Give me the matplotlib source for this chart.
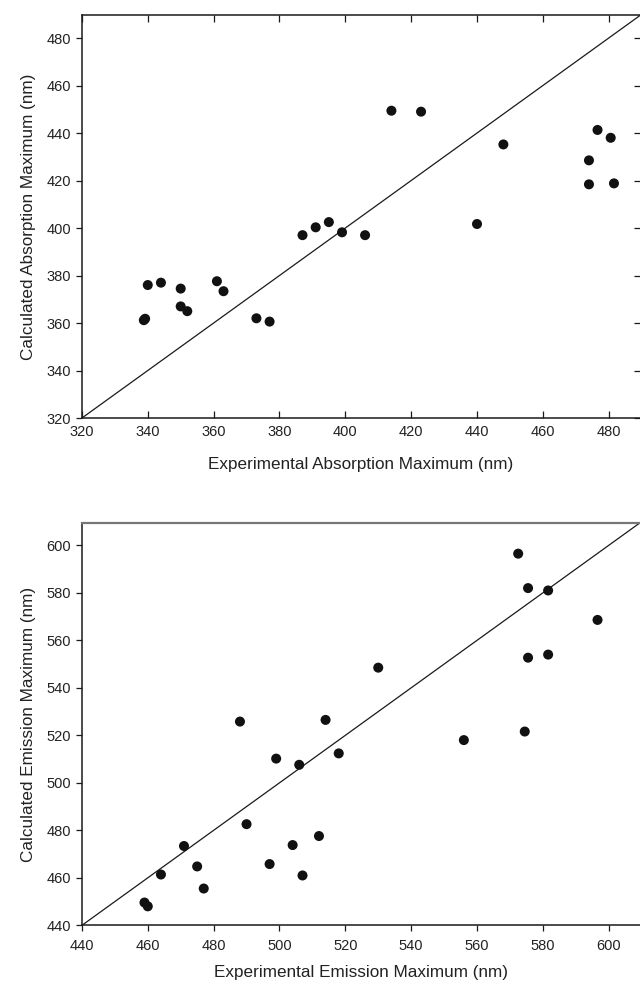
import matplotlib.pyplot as plt
import numpy as np

plt.rcParams['font.family'] = ['Liberation Sans', 'DejaVu Sans']

# absorption data (nm)
abs_exp = [338.8, 339.2, 340, 344, 350, 350, 352, 361, 363, 373, 377,
           387, 391, 395, 399, 406, 414, 423, 440, 448, 474, 474, 476.6, 480.6, 481.6]
abs_calc = [361.2, 361.8, 376, 377, 374.5, 367, 365, 377.6, 373.4, 362, 360.6,
            397, 400.3, 402.5, 398.2, 397, 449.4, 449, 401.7, 435.2, 428.5, 418.4, 441.3, 438, 418.8]

# emission data (nm)
em_exp = [459, 460, 464, 471, 475, 477, 488, 490, 497, 499, 504, 506, 507,
          512, 514, 518, 530, 556, 572.5, 574.5, 575.5, 575.5, 581.6, 581.6, 596.6]
em_calc = [449.6, 448, 461.4, 473.4, 464.8, 455.5, 525.8, 482.6, 465.8, 510.2, 473.8, 507.6, 461,
           477.6, 526.5, 512.4, 548.5, 518, 596.5, 521.6, 582, 552.7, 581, 554, 568.6]

abs_lim = (320, 489.5)
em_lim = (440, 609.5)
abs_ticks = np.arange(320, 481, 20)
em_ticks = np.arange(440, 601, 20)

fig = plt.figure(figsize=(6.4, 9.92), dpi=100)
ax1 = fig.add_axes([0.128, 0.5786, 0.872, 0.4058])
ax2 = fig.add_axes([0.128, 0.0672, 0.872, 0.4058])

txt = '#222222'
dark = '#1a1a1a'

# top panel
ax1.plot(abs_lim, abs_lim, color=dark, lw=0.9)
ax1.scatter(abs_exp, abs_calc, s=52, color='#111111', zorder=3, edgecolors='none')
ax1.set_xlim(abs_lim)
ax1.set_ylim(abs_lim)
ax1.set_xticks(abs_ticks)
ax1.set_yticks(abs_ticks)
ax1.spines['right'].set_visible(False)
ax1.tick_params(axis='x', direction='in', length=5, width=0.9, top=True,
                labelsize=10.5, labelcolor=txt, color=dark, pad=5)
ax1.tick_params(axis='y', direction='out', length=4.5, width=0.9,
                labelsize=10.5, labelcolor=txt, color=dark)
# inward ticks on the right edge, no labels
sec = ax1.secondary_yaxis('right')
sec.set_yticks(abs_ticks)
sec.tick_params(direction='in', length=4, width=0.9, labelright=False, color=dark)
sec.spines['right'].set_visible(False)
ax1.set_xlabel('Experimental Absorption Maximum (nm)', fontsize=12.3, color=txt, labelpad=13)
ax1.set_ylabel('Calculated Absorption Maximum (nm)', fontsize=12.3, color=txt, labelpad=7)

# bottom panel
ax2.plot(em_lim, em_lim, color=dark, lw=0.9)
ax2.scatter(em_exp, em_calc, s=52, color='#111111', zorder=3, edgecolors='none')
ax2.set_xlim(em_lim)
ax2.set_ylim(em_lim)
ax2.set_xticks(em_ticks)
ax2.set_yticks(em_ticks)
ax2.spines['right'].set_visible(False)
ax2.spines['top'].set_color('#777777')
ax2.spines['top'].set_linewidth(1.6)
ax2.tick_params(axis='both', direction='out', length=4.5, width=0.9,
                labelsize=10.5, labelcolor=txt, color=dark)
ax2.tick_params(axis='x', pad=5)
ax2.set_xlabel('Experimental Emission Maximum (nm)', fontsize=12.3, color=txt, labelpad=9)
ax2.set_ylabel('Calculated Emission Maximum (nm)', fontsize=12.3, color=txt, labelpad=7)

for ax in (ax1, ax2):
    for s in ('left', 'bottom'):
        ax.spines[s].set_linewidth(1.1)
        ax.spines[s].set_color(dark)
ax1.spines['top'].set_linewidth(1.1)
ax1.spines['top'].set_color(dark)

fig.savefig('out.png', dpi=100)
